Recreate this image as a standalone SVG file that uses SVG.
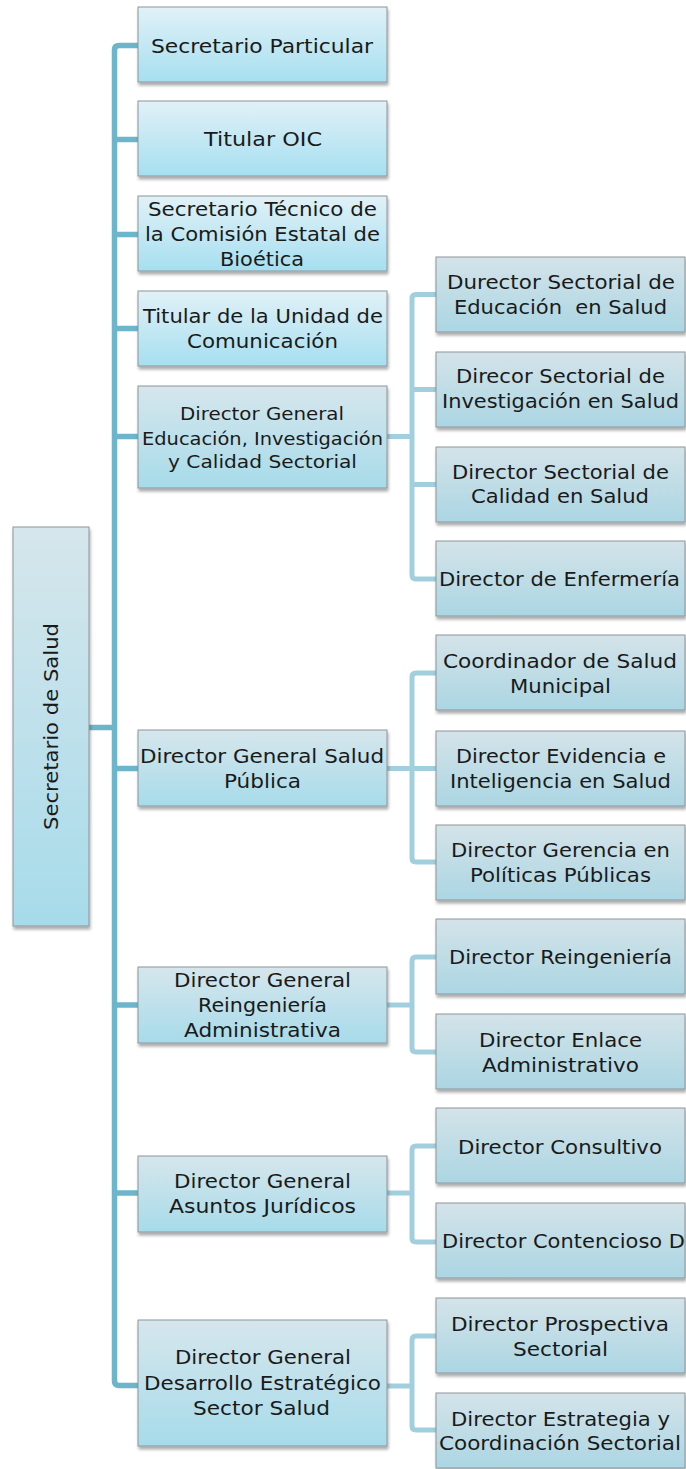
<svg xmlns="http://www.w3.org/2000/svg" width="686" height="1469" viewBox="0 0 686 1469">
<defs>
<linearGradient id="gA" x1="0" y1="0" x2="0" y2="1"><stop offset="0" stop-color="#e1f1f7"/><stop offset="1" stop-color="#a6dff0"/></linearGradient>
<linearGradient id="gB" x1="0" y1="0" x2="0" y2="1"><stop offset="0" stop-color="#d6e6ec"/><stop offset="1" stop-color="#a7dbea"/></linearGradient>
<linearGradient id="gC" x1="0" y1="0" x2="0" y2="1"><stop offset="0" stop-color="#d4e3e9"/><stop offset="1" stop-color="#abd6e3"/></linearGradient>
<filter id="sh" x="-10%" y="-10%" width="130%" height="140%"><feDropShadow dx="1" dy="3" stdDeviation="1.8" flood-color="#000" flood-opacity="0.33"/></filter>
<style>
.box{stroke:#8c9599;stroke-width:1;filter:url(#sh)}
.a{fill:url(#gA)}.b{fill:url(#gB)}.c{fill:url(#gC)}
text{font-family:"DejaVu Sans","Liberation Sans",sans-serif;font-size:19.5px;fill:#1a1a1a}
.s{font-size:18.5px}
.trunk{fill:none;stroke:#6db5cb;stroke-width:5.5;stroke-linejoin:round}
.sub{fill:none;stroke:#a2cfdd;stroke-width:5;stroke-linejoin:round}
</style>
</defs>
<g id="connectors">
<path class="trunk" d="M138,45.5 H119 Q114.5,45.5 114.5,50 V1381 Q114.5,1385.5 119,1385.5 H138"/>
<path class="trunk" d="M114.5,139.5 H138 M114.5,234.5 H138 M114.5,328.5 H138 M114.5,436.5 H138 M114.5,768.5 H138 M114.5,1005 H138 M114.5,1193 H138 M89,727.5 H114.5"/>
<path class="sub" d="M387,436.5 H412 M436,294.5 H416 Q412,294.5 412,298.5 V575 Q412,579 416,579 H436 M412,389.5 H436 M412,484.5 H436"/>
<path class="sub" d="M387,768.5 H412 M436,673 H416 Q412,673 412,677 V858 Q412,862 416,862 H436 M412,768.5 H436"/>
<path class="sub" d="M387,1005 H412 M436,957 H416 Q412,957 412,961 V1048 Q412,1052 416,1052 H436"/>
<path class="sub" d="M387,1193 H412 M436,1146 H416 Q412,1146 412,1150 V1238 Q412,1242 416,1242 H436"/>
<path class="sub" d="M387,1386 H412 M436,1336 H416 Q412,1336 412,1340 V1426 Q412,1430 416,1430 H436"/>
</g>
<g id="root"><rect class="box b" x="13" y="527" width="76" height="399"/><text transform="translate(58,830) rotate(-90)" x="0" y="0" textLength="207" lengthAdjust="spacingAndGlyphs">Secretario de Salud</text></g>
<g id="n1"><rect class="box a" x="138" y="7" width="249" height="75"/><text x="151" y="53" textLength="222" lengthAdjust="spacingAndGlyphs">Secretario Particular</text></g>
<g id="n2"><rect class="box a" x="138" y="101" width="249" height="75"/><text x="204" y="146" textLength="118" lengthAdjust="spacingAndGlyphs">Titular OIC</text></g>
<g id="n3"><rect class="box a" x="138" y="196" width="249" height="75"/><text x="148" y="216" textLength="229" lengthAdjust="spacingAndGlyphs">Secretario Técnico de</text><text x="145" y="241" textLength="235" lengthAdjust="spacingAndGlyphs">la Comisión Estatal de</text><text x="220" y="266" textLength="84" lengthAdjust="spacingAndGlyphs">Bioética</text></g>
<g id="n4"><rect class="box a" x="138" y="291" width="249" height="75"/><text x="143" y="323" textLength="240" lengthAdjust="spacingAndGlyphs">Titular de la Unidad de</text><text x="187" y="348" textLength="151" lengthAdjust="spacingAndGlyphs">Comunicación</text></g>
<g id="n5"><rect class="box b" x="138" y="386" width="249" height="102"/><text class="s" x="180" y="420" textLength="164" lengthAdjust="spacingAndGlyphs">Director General</text><text class="s" x="142" y="445" textLength="241" lengthAdjust="spacingAndGlyphs">Educación, Investigación</text><text class="s" x="168" y="468" textLength="189" lengthAdjust="spacingAndGlyphs">y Calidad Sectorial</text></g>
<g id="n6"><rect class="box b" x="138" y="730" width="249" height="76"/><text x="140" y="763" textLength="244" lengthAdjust="spacingAndGlyphs">Director General Salud</text><text x="224" y="788" textLength="77" lengthAdjust="spacingAndGlyphs">Pública</text></g>
<g id="n7"><rect class="box b" x="138" y="967" width="249" height="76"/><text x="174" y="987" textLength="177" lengthAdjust="spacingAndGlyphs">Director General</text><text x="198" y="1012" textLength="129" lengthAdjust="spacingAndGlyphs">Reingeniería</text><text x="184" y="1037" textLength="157" lengthAdjust="spacingAndGlyphs">Administrativa</text></g>
<g id="n8"><rect class="box b" x="138" y="1156" width="249" height="76"/><text x="174" y="1188" textLength="177" lengthAdjust="spacingAndGlyphs">Director General</text><text x="169" y="1213" textLength="187" lengthAdjust="spacingAndGlyphs">Asuntos Jurídicos</text></g>
<g id="n9"><rect class="box b" x="138" y="1320" width="249" height="126"/><text x="175" y="1364" textLength="176" lengthAdjust="spacingAndGlyphs">Director General</text><text x="144" y="1390" textLength="237" lengthAdjust="spacingAndGlyphs">Desarrollo Estratégico</text><text x="193" y="1415" textLength="137" lengthAdjust="spacingAndGlyphs">Sector Salud</text></g>
<g id="c1"><rect class="box c" x="436" y="257" width="249" height="75"/><text x="447" y="289" textLength="228" lengthAdjust="spacingAndGlyphs">Durector Sectorial de</text><text x="454" y="314" textLength="213" lengthAdjust="spacingAndGlyphs" xml:space="preserve">Educación  en Salud</text></g>
<g id="c2"><rect class="box c" x="436" y="352" width="249" height="75"/><text x="456" y="383" textLength="209" lengthAdjust="spacingAndGlyphs">Direcor Sectorial de</text><text x="442" y="408" textLength="237" lengthAdjust="spacingAndGlyphs">Investigación en Salud</text></g>
<g id="c3"><rect class="box c" x="436" y="447" width="249" height="75"/><text x="452" y="479" textLength="217" lengthAdjust="spacingAndGlyphs">Director Sectorial de</text><text x="471" y="503" textLength="178" lengthAdjust="spacingAndGlyphs">Calidad en Salud</text></g>
<g id="c4"><rect class="box c" x="436" y="541" width="249" height="75"/><text x="439" y="586" textLength="241" lengthAdjust="spacingAndGlyphs">Director de Enfermería</text></g>
<g id="c5"><rect class="box c" x="436" y="635" width="249" height="75"/><text x="443" y="668" textLength="234" lengthAdjust="spacingAndGlyphs">Coordinador de Salud</text><text x="510" y="693" textLength="101" lengthAdjust="spacingAndGlyphs">Municipal</text></g>
<g id="c6"><rect class="box c" x="436" y="731" width="249" height="75"/><text x="456" y="763" textLength="210" lengthAdjust="spacingAndGlyphs">Director Evidencia e</text><text x="450" y="788" textLength="221" lengthAdjust="spacingAndGlyphs">Inteligencia en Salud</text></g>
<g id="c7"><rect class="box c" x="436" y="825" width="249" height="75"/><text x="451" y="857" textLength="219" lengthAdjust="spacingAndGlyphs">Director Gerencia en</text><text x="470" y="882" textLength="181" lengthAdjust="spacingAndGlyphs">Políticas Públicas</text></g>
<g id="c8"><rect class="box c" x="436" y="919" width="249" height="75"/><text x="449" y="964" textLength="223" lengthAdjust="spacingAndGlyphs">Director Reingeniería</text></g>
<g id="c9"><rect class="box c" x="436" y="1014" width="249" height="75"/><text x="479" y="1047" textLength="163" lengthAdjust="spacingAndGlyphs">Director Enlace</text><text x="482" y="1072" textLength="157" lengthAdjust="spacingAndGlyphs">Administrativo</text></g>
<g id="c10"><rect class="box c" x="436" y="1108" width="249" height="75"/><text x="458" y="1154" textLength="204" lengthAdjust="spacingAndGlyphs">Director Consultivo</text></g>
<g id="c11"><rect class="box c" x="436" y="1203" width="249" height="75"/><text x="442" y="1248" textLength="243" lengthAdjust="spacingAndGlyphs">Director Contencioso D</text></g>
<g id="c12"><rect class="box c" x="436" y="1298" width="249" height="75"/><text x="451" y="1331" textLength="218" lengthAdjust="spacingAndGlyphs">Director Prospectiva</text><text x="513" y="1356" textLength="95" lengthAdjust="spacingAndGlyphs">Sectorial</text></g>
<g id="c13"><rect class="box c" x="436" y="1393" width="249" height="75"/><text x="451" y="1426" textLength="219" lengthAdjust="spacingAndGlyphs">Director Estrategia y</text><text x="439" y="1450" textLength="242" lengthAdjust="spacingAndGlyphs">Coordinación Sectorial</text></g>
</svg>
